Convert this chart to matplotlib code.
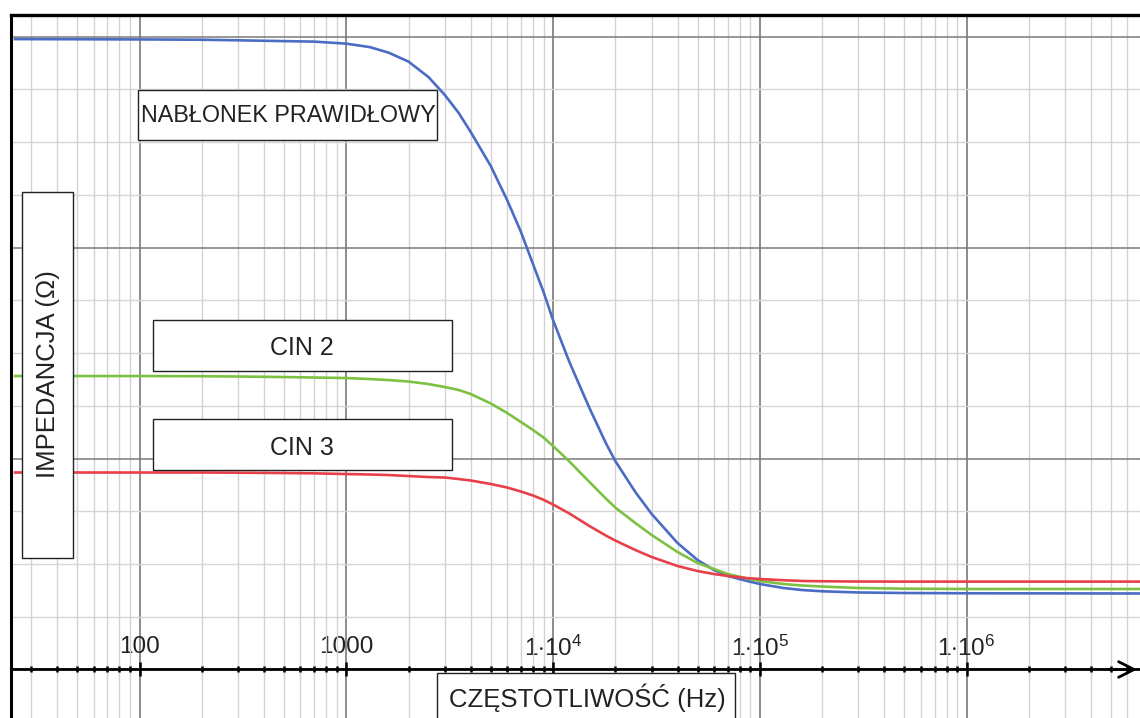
import matplotlib
matplotlib.use("Agg")
import matplotlib.pyplot as plt
from matplotlib.patches import Rectangle
from matplotlib.ticker import LogLocator, MultipleLocator, NullFormatter, FixedLocator, FixedFormatter

plt.rcParams["font.family"] = ["Liberation Sans", "DejaVu Sans"]
plt.rcParams["mathtext.fontset"] = "custom"
plt.rcParams["mathtext.rm"] = "Liberation Sans"
plt.rcParams["mathtext.it"] = "Liberation Sans:italic"
plt.rcParams["mathtext.bf"] = "Liberation Sans:bold"

# frequency (Hz) and impedance (grid units)
freq = [25, 100, 200, 300, 500, 700, 1000, 1300, 1600, 2000, 2500, 3000, 3500, 4000,
        5000, 6000, 7000, 8000, 9000, 1e4, 1.2e4, 1.5e4, 1.8e4, 2e4, 2.5e4, 3e4, 4e4,
        5e4, 6e4, 7e4, 8.5e4, 1e5, 1.3e5, 1.6e5, 2e5, 3e5, 5e5, 1e6, 7e6]
z_normal = [11.953, 11.947, 11.941, 11.930, 11.915, 11.905, 11.867, 11.801, 11.697, 11.526,
            11.232, 10.891, 10.550, 10.190, 9.545, 8.900, 8.294, 7.687, 7.156, 6.626,
            5.829, 4.957, 4.294, 3.953, 3.365, 2.948, 2.398, 2.076, 1.886, 1.773,
            1.687, 1.621, 1.545, 1.507, 1.483, 1.460, 1.450, 1.445, 1.441]
z_cin2 = [5.564, 5.564, 5.560, 5.555, 5.545, 5.536, 5.526, 5.507, 5.488, 5.460,
          5.412, 5.355, 5.299, 5.223, 5.043, 4.863, 4.692, 4.540, 4.398, 4.237,
          3.943, 3.555, 3.242, 3.071, 2.777, 2.550, 2.227, 2.019, 1.905, 1.810,
          1.735, 1.678, 1.621, 1.592, 1.573, 1.545, 1.532, 1.526, 1.526]
z_cin3 = [3.735, 3.735, 3.735, 3.731, 3.725, 3.719, 3.706, 3.697, 3.687, 3.668,
          3.649, 3.640, 3.611, 3.583, 3.517, 3.450, 3.374, 3.299, 3.217, 3.128,
          2.957, 2.720, 2.540, 2.445, 2.265, 2.133, 1.962, 1.867, 1.810, 1.773,
          1.735, 1.716, 1.692, 1.678, 1.673, 1.668, 1.666, 1.666, 1.666]

tick_freqs = [100, 1000, 1e4, 1e5, 1e6]
tick_labels = ["100", "1000", r"$1{\cdot}10^{4}$", r"$1{\cdot}10^{5}$", r"$1{\cdot}10^{6}$"]

W, H = 1140, 718
fig = plt.figure(figsize=(W / 100, H / 100), dpi=100)
ax = fig.add_axes([11 / W, 0, 1 - 11 / W, 1 - 15 / H])

ax.plot(freq, z_normal, color="#4a6cc4", lw=1.9, zorder=3)
ax.plot(freq, z_cin2, color="#7cc142", lw=1.9, zorder=3)
ax.plot(freq, z_cin3, color="#e8404a", lw=1.9, zorder=3)

ax.set_xscale("log")
ax.set_xlim(23.9, 6.9e6)
ax.set_ylim(-0.92, 12.41)

# grid
ax.xaxis.set_major_locator(FixedLocator(tick_freqs))
ax.xaxis.set_major_formatter(FixedFormatter(tick_labels))
ax.xaxis.set_minor_locator(LogLocator(base=10, subs=range(2, 10)))
ax.xaxis.set_minor_formatter(NullFormatter())
ax.yaxis.set_major_locator(MultipleLocator(4))
ax.yaxis.set_minor_locator(MultipleLocator(1))
ax.grid(which="major", axis="x", color="#6e6e6e", lw=1.1)
ax.grid(which="minor", axis="x", color="#d2d2d2", lw=1.0)
ax.grid(which="major", axis="y", color="#7a7a7a", lw=1.1)
ax.grid(which="minor", axis="y", color="#d6d6d6", lw=1.0)
ax.set_axisbelow(True)

ax.tick_params(axis="y", which="both", left=False, labelleft=False)
ax.spines["right"].set_visible(False)
ax.spines["left"].set_linewidth(2.2)
ax.spines["top"].set_linewidth(2.4)
ax.spines["bottom"].set_position(("data", 0))
ax.spines["bottom"].set_linewidth(2.0)
ax.tick_params(axis="x", which="major", direction="inout", length=10, width=1.8,
               labelsize=17.5, pad=-29, colors="black", labelcolor="#222222")
ax.tick_params(axis="x", which="minor", direction="inout", length=5, width=1.8)
ax.annotate("", xy=(1.0, 0), xytext=(0.97, 0), xycoords=ax.get_yaxis_transform(),
            arrowprops=dict(arrowstyle="->", lw=2.0, color="black", mutation_scale=28),
            annotation_clip=False)


def label_box(x0, y0, x1, y1, text, tx, ty, size, rotation=0, va="baseline"):
    fig.add_artist(Rectangle((x0 / W, 1 - y1 / H), (x1 - x0) / W, (y1 - y0) / H,
                             transform=fig.transFigure, facecolor="white",
                             edgecolor="#222222", lw=1.0, zorder=5))
    fig.text(tx / W, 1 - ty / H, text, ha="center", va=va, rotation=rotation,
             fontsize=size, color="#222222", zorder=6)


label_box(137.5, 90, 437, 140, "NABŁONEK PRAWIDŁOWY", 288, 122, 16.8)
label_box(153, 320, 452, 371, "CIN 2", 302, 355, 18)
label_box(153, 419, 452, 470, "CIN 3", 302, 455, 18)
label_box(21.5, 191.5, 72.5, 557.5, "IMPEDANCJA (Ω)", 48, 374.5, 18.5, rotation=90, va="center")
label_box(436.5, 672.5, 735, 740, "CZĘSTOTLIWOŚĆ (Hz)", 587, 707, 18.5)

fig.savefig("out.png", dpi=100)
